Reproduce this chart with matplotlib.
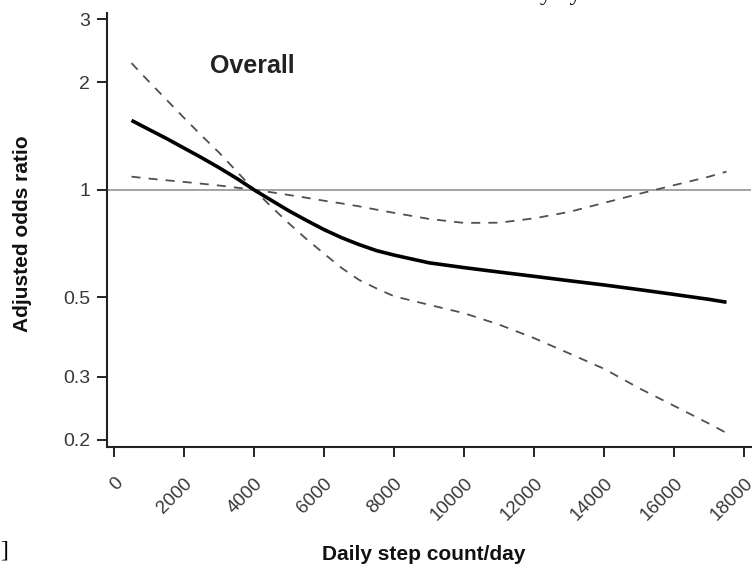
import matplotlib
matplotlib.use('Agg')
from matplotlib import pyplot as plt
from matplotlib.ticker import FixedLocator, FixedFormatter, NullLocator

plt.rcParams['font.family'] = ['Liberation Sans', 'DejaVu Sans']

# daily steps and adjusted odds ratios
STEPS = [500, 1000, 1500, 2000, 2500, 3000, 3500, 4000, 4500, 5000, 5500, 6000, 6500,
         7000, 7500, 8000, 9000, 10000, 11000, 12000, 13000, 14000, 15000, 16000, 17000, 17500]
OR_FIT = [1.563, 1.474, 1.391, 1.308, 1.230, 1.153, 1.077, 1.0, 0.934, 0.873, 0.821, 0.774, 0.735,
          0.703, 0.676, 0.657, 0.625, 0.606, 0.589, 0.573, 0.557, 0.542, 0.526, 0.510, 0.494, 0.485]
CI_STEEP = [2.26, 2.005, 1.785, 1.589, 1.418, 1.271, 1.127, 1.0, 0.896, 0.805, 0.728, 0.663, 0.605,
            0.560, 0.530, 0.504, 0.477, 0.452, 0.420, 0.385, 0.349, 0.316, 0.279, 0.249, 0.222, 0.209]
CI_FLAT = [1.088, 1.075, 1.063, 1.052, 1.040, 1.028, 1.014, 1.0, 0.984, 0.967, 0.950, 0.932, 0.916,
           0.899, 0.880, 0.862, 0.829, 0.808, 0.809, 0.832, 0.867, 0.919, 0.974, 1.030, 1.088, 1.124]

Y_TICKS = [0.2, 0.3, 0.5, 1, 2, 3]
Y_LABELS = ['0.2', '0.3', '0.5', '1', '2', '3']
X_TICKS = list(range(0, 18001, 2000))

fig = plt.figure(figsize=(7.54, 5.65), dpi=100)
ax = fig.add_axes([107/754, 1 - 447/565, 644/754, 434/565])

ax.axhline(1, color='#8a8a8a', lw=1.1, zorder=1)
ax.plot(STEPS, CI_STEEP, color='#505050', lw=1.3, ls=(0, (5, 4.5)))
ax.plot(STEPS, CI_FLAT, color='#505050', lw=1.3, ls=(0, (5, 4.5)))
ax.plot(STEPS, OR_FIT, color='black', lw=2.6, solid_capstyle='butt')

ax.set_yscale('log')
ax.set_ylim(0.191, 3.12)
ax.set_xlim(-200, 18200)
ax.yaxis.set_major_locator(FixedLocator(Y_TICKS))
ax.yaxis.set_major_formatter(FixedFormatter(Y_LABELS))
ax.yaxis.set_minor_locator(NullLocator())
ax.set_xticks(X_TICKS)
ax.set_xticklabels([str(t) for t in X_TICKS])

for s in ['top', 'right']:
    ax.spines[s].set_visible(False)
for s in ['left', 'bottom']:
    ax.spines[s].set_linewidth(1.5)
    ax.spines[s].set_color('#222222')

ax.tick_params(axis='both', length=7, width=1.4, color='#222222', labelcolor='#383838')
ax.tick_params(axis='y', pad=5, labelsize=14)
ax.tick_params(axis='x', pad=13, labelsize=13.5)
plt.setp(ax.get_xticklabels(), rotation=45, ha='right', rotation_mode='anchor')

ax.set_xlabel('Daily step count/day', fontsize=15, fontweight='bold', color='#111111')
ax.xaxis.set_label_coords(0.492, -0.226)
ax.set_ylabel('Adjusted odds ratio', fontsize=15, fontweight='bold', color='#111111')
ax.yaxis.set_label_coords(-0.1165, 0.492)

ax.text(2743, 2.12, 'Overall', fontsize=18, fontweight='bold', color='#222222',
        ha='left', va='baseline')

# cut-off bits of the surrounding page
fig.text(561/754, 1.0, 'y   y', fontsize=17, family='Liberation Serif',
         ha='center', va='baseline')
fig.text(0.0, 1 - 551/565, ']', fontsize=17, family='Liberation Serif',
         ha='left', va='center')

fig.savefig('out.png', dpi=100)
